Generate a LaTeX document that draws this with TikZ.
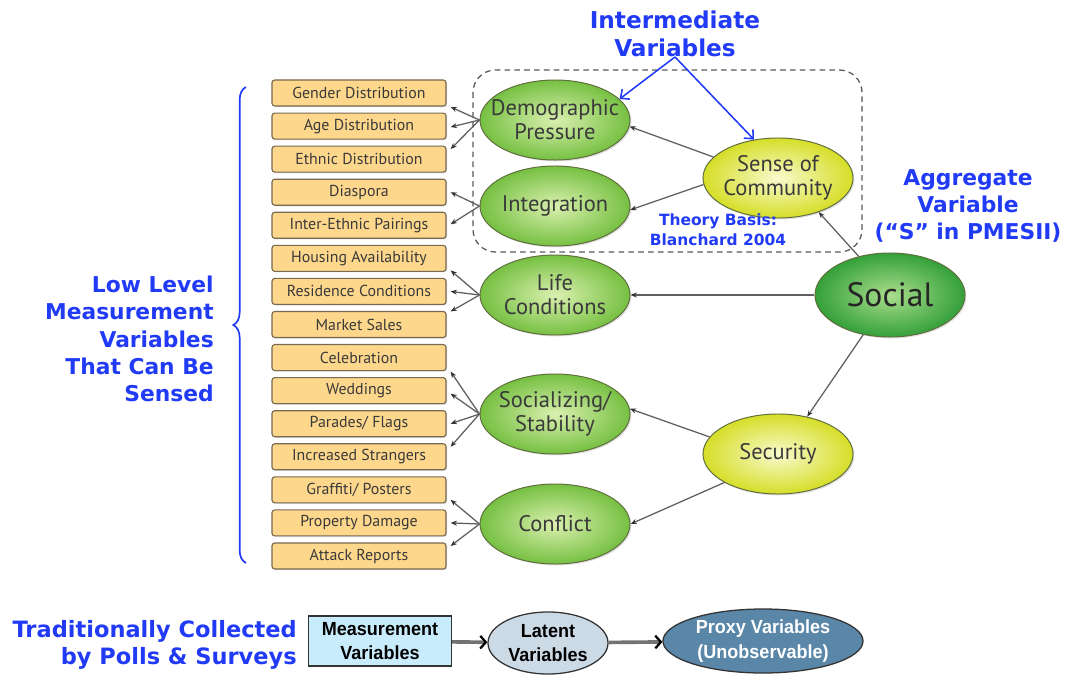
\documentclass[tikz,border=0pt]{standalone}
\usepackage{fontspec}
\setmainfont{PT Sans}
\newfontfamily\bluefont{DejaVu Sans}
\newfontfamily\condfont[FakeStretch=0.95]{Liberation Sans}
\usetikzlibrary{arrows.meta,shapes.geometric,shadows,calc,decorations.pathreplacing}

\definecolor{boxfill}{RGB}{253,215,140}
\definecolor{boxline}{RGB}{120,105,80}
\definecolor{txtgray}{RGB}{58,58,58}
\definecolor{greenout}{RGB}{118,192,66}
\definecolor{greenin}{RGB}{218,240,175}
\definecolor{yellowout}{RGB}{214,222,40}
\definecolor{yellowin}{RGB}{248,250,205}
\definecolor{socout}{RGB}{52,160,58}
\definecolor{socin}{RGB}{170,222,140}
\definecolor{ovalline}{RGB}{95,110,60}
\definecolor{lblblue}{RGB}{32,58,245}
\definecolor{arrgray}{RGB}{95,95,95}
\definecolor{mvfill}{RGB}{200,236,252}
\definecolor{lvfill}{RGB}{204,218,230}
\definecolor{pvfill}{RGB}{90,134,168}

\tikzset{
  meas/.style={draw=boxline, fill=boxfill, rounded corners=2pt, line width=0.8pt,
    minimum width=4.35cm, minimum height=0.65cm, inner sep=0pt, text=txtgray,
    font=\fontsize{11.3}{13}\selectfont,
    drop shadow={opacity=0.25, shadow xshift=0.8pt, shadow yshift=-0.8pt}},
  oval/.style={ellipse, draw=ovalline, line width=0.7pt, inner xsep=-25pt, inner ysep=-8pt,
    minimum width=3.75cm, minimum height=2cm, align=center, text=txtgray,
    font=\fontsize{16}{17}\selectfont,
    drop shadow={opacity=0.25, shadow xshift=1pt, shadow yshift=-1pt}},
  latent/.style={oval, shade, inner color=greenin, outer color=greenout},
  inter/.style={oval, shade, inner color=yellowin, outer color=yellowout},
  aggr/.style={oval, shade, inner color=socin, outer color=socout,
    minimum height=2.1cm, font=\fontsize{24}{26}\selectfont, text=black!85},
  bluelbl/.style={text=lblblue, align=center, inner sep=0pt,
    font=\bluefont\bfseries\fontsize{15.5}{19.5}\selectfont},
  lowarr/.style={draw=arrgray, line width=0.9pt, -{Stealth[length=4.5pt,width=3.5pt,black!80]}},
  bluearr/.style={draw=lblblue, line width=1.1pt, -{Straight Barb[length=5pt,width=9pt]}},
  fatarr/.style={draw=black!55, line width=2.6pt, -{Straight Barb[length=4pt,width=9pt,black,line width=1.6pt]}},
  legend/.style={draw=black!80, line width=0.9pt, align=center, inner sep=0pt,
    font=\condfont\bfseries\fontsize{13.5}{17.5}\selectfont},
}

\begin{document}
\begin{tikzpicture}[x=0.025cm, y=-0.025cm]
\useasboundingbox (0,0) rectangle (1073,677);

% measurement boxes
\foreach \nm/\txt [count=\i from 0] in {gd/Gender Distribution, ad/Age Distribution,
    ed/Ethnic Distribution, dia/Diaspora, iep/Inter-Ethnic Pairings,
    ha/Housing Availability, rc/Residence Conditions, ms/Market Sales,
    cel/Celebration, wed/Weddings, pf/{Parades/ Flags}, is/Increased Strangers,
    gp/{Graffiti/ Posters}, pd/Property Damage, ar/Attack Reports}
  \node[meas] (\nm) at (359,{93+33.07*\i}) {\txt};

% dashed group
\draw[black!65, line width=0.9pt, dash pattern=on 4pt off 3pt, rounded corners=16pt]
  (473,70) rectangle (862,252);

% latent variables
\node[latent] (dp) at (555,120) {Demographic\\Pressure};
\node[latent] (ig) at (555,206) {Integration};
\node[latent] (lc) at (555,295) {Life\\Conditions};
\node[latent] (ss) at (555,414) {Socializing/\\Stability};
\node[latent] (cf) at (555,524) {Conflict};

\node[inter] (sc) at (778,178) {Sense of\\Community};
\node[inter] (sec) at (778,454) {Security};
\node[aggr] (soc) at (890,295) {Social};

% labels
\node[bluelbl, font=\bluefont\bfseries\fontsize{16.5}{19.5}\selectfont] (iv) at (675,34)
  {Intermediate\\Variables};
\node[bluelbl] (av) at (968,206) {Aggregate\\Variable\\(“S” in PMESII)};
\node[bluelbl, font=\bluefont\bfseries\fontsize{11}{14}\selectfont] (tb) at (718,230)
  {Theory Basis:\\Blanchard 2004};
\node[bluelbl, align=right, anchor=east] (ll) at (214,339)
  {Low Level\\Measurement\\Variables\\That Can Be\\Sensed};

\draw[lblblue, line width=1.2pt, decorate, decoration={brace, amplitude=9pt}]
  (246,563) -- (246,87);

\draw[bluearr] (iv.south) -- (dp.18);
\draw[bluearr] (iv.south) -- (sc.122);

% top level arrows
\draw[lowarr] (soc.129) -- (sc.-40);
\draw[lowarr] (soc.west) -- (lc.east);
\draw[lowarr] (soc.236) -- (sec.52);
\draw[lowarr] (sc.162) -- (dp.-5);
\draw[lowarr] (sc.185) -- (ig.-3);
\draw[lowarr] (sec.166) -- (ss.4);
\draw[lowarr] (sec.208) -- (cf.0);

% arrows to boxes
\draw[lowarr] (dp.west) -- ($(gd.east)+(4,14)$);
\draw[lowarr] (dp.west) -- ($(ad.east)+(4,1)$);
\draw[lowarr] (dp.west) -- ($(ed.east)+(4,-10)$);
\draw[lowarr] (ig.west) -- ($(dia.east)+(4,0)$);
\draw[lowarr] (ig.west) -- ($(iep.east)+(4,-1)$);
\draw[lowarr] (lc.west) -- ($(ha.east)+(4,12)$);
\draw[lowarr] (lc.west) -- ($(rc.east)+(4,0)$);
\draw[lowarr] (lc.west) -- ($(ms.east)+(4,-13)$);
\draw[lowarr] (ss.west) -- ($(cel.east)+(4,14)$);
\draw[lowarr] (ss.west) -- ($(wed.east)+(4,3)$);
\draw[lowarr] (ss.west) -- ($(pf.east)+(4,0)$);
\draw[lowarr] (ss.west) -- ($(is.east)+(4,-10)$);
\draw[lowarr] (cf.west) -- ($(gp.east)+(4,10)$);
\draw[lowarr] (cf.west) -- ($(pd.east)+(4,0)$);
\draw[lowarr] (cf.west) -- ($(ar.east)+(4,-10)$);

% legend
\node[text=lblblue, align=right, anchor=east, inner sep=0pt,
  font=\bluefont\bfseries\fontsize{16}{19}\selectfont] (tc) at (297,645)
  {Traditionally Collected\\by Polls \& Surveys};
\node[legend, fill=mvfill, minimum width=3.575cm, minimum height=1.25cm]
  (mv) at (380,641) {Measurement\\Variables};
\node[legend, ellipse, fill=lvfill, minimum width=3cm, minimum height=1.55cm,
  inner xsep=-12pt, inner ysep=-6pt] (lv) at (548,643) {Latent\\Variables};
\node[legend, ellipse, fill=pvfill, minimum width=5cm, minimum height=1.6cm, text=white,
  inner xsep=-20pt, inner ysep=-6pt] (pv) at (763,641) {Proxy Variables\\(Unobservable)};
\draw[fatarr] (mv) -- (lv);
\draw[fatarr] (lv) -- (pv);
\end{tikzpicture}
\end{document}
